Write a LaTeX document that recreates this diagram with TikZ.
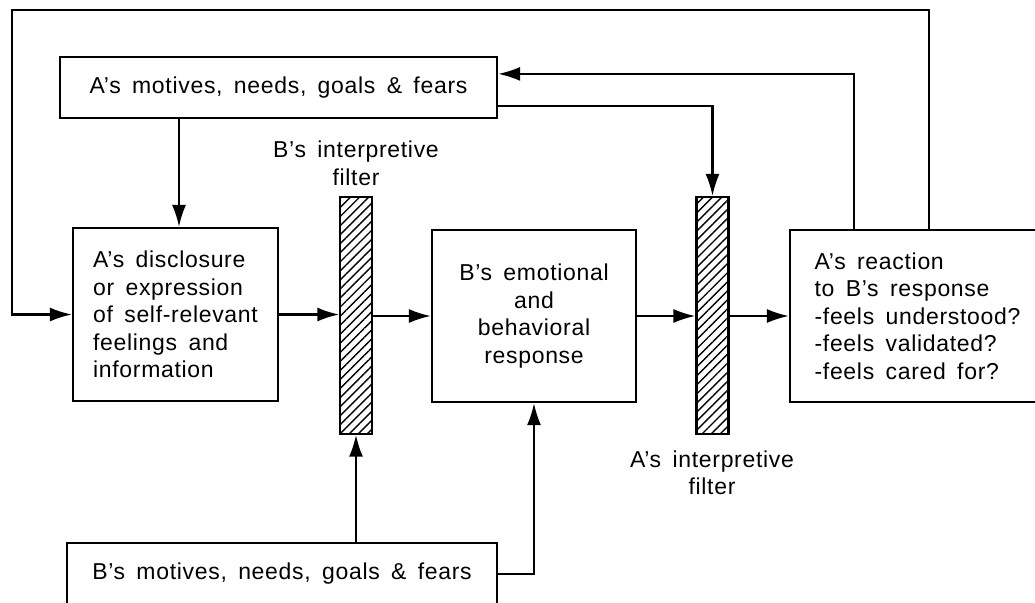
\documentclass[tikz,border=0pt]{standalone}
\usepackage{fontspec}
\setmainfont[WordSpace=1.6,LetterSpace=3]{Liberation Sans}
\usetikzlibrary{arrows.meta,patterns.meta,calc}
\begin{document}
\begin{tikzpicture}[x=0.5pt,y=-0.5pt,
  txt/.style={font=\fontsize{11.5}{13.75}\selectfont},
  box/.style={draw,line width=1.1pt,inner sep=0pt,txt},
  filterbar/.style={draw,line width=1.1pt,minimum width=16pt,minimum height=118.5pt,inner sep=0pt,
    pattern={Lines[angle=45,distance=3.2pt,line width=0.7pt]}},
  lbl/.style={align=center,inner sep=0pt,txt},
  arr/.style={line width=1.1pt,-{Latex[length=11pt,width=7pt]}}]
\useasboundingbox (0,0) rectangle (1035,602);
\clip (0,0) rectangle (1035,602);

\node[box,minimum width=218.5pt,minimum height=30.5pt] (amot) at (278.5,87.5) {A's motives, needs, goals \& fears};
\node[box,align=left,minimum width=102.5pt,minimum height=86.5pt] (disc) at (175.5,314.5) {A's disclosure\\or expression\\of self-relevant\\feelings and\\information};
\node[filterbar] (bfilt) at (356,315.5) {};
\node[lbl,anchor=south] (blbl) at (356,186) {B's interpretive\\filter};
\node[box,align=center,minimum width=102pt,minimum height=86pt] (bresp) at (534,316) {B's emotional\\and\\behavioral\\response};
\node[filterbar] (afilt) at (712.5,315.5) {};
\node[lbl,anchor=north] (albl) at (712,450) {A's interpretive\\filter};
\node[box,align=left,minimum width=127.5pt,minimum height=86pt] (react) at (917.5,316) {A's reaction\\to B's response\\-feels understood?\\-feels validated?\\-feels cared for?};
\node[box,minimum width=215pt,minimum height=31pt] (bmot) at (282,574) {B's motives, needs, goals \& fears};

\coordinate (d1) at ([xshift=1.75pt]disc.north);
\draw[arr] (amot.south -| d1) -- (d1);
\draw[arr] (disc.east) -- (disc.east -| bfilt.west);
\draw[arr] (bfilt.east |- bresp.west) -- (bresp.west);
\draw[arr] (bresp.east) -- (bresp.east -| afilt.west);
\draw[arr] (afilt.east |- react.west) -- (react.west);
\draw[arr] (bmot.north -| bfilt.south) -- (bfilt.south);
\draw[arr] (bmot.east) -| (bresp.south);
\draw[arr] ([yshift=6.5pt]amot.south east) -| (afilt.north);
\draw[arr] ([xshift=32.5pt]react.north west) |- ([yshift=-9pt]amot.north east);
\coordinate (tl) at (12,10);
\draw[arr] ([xshift=70pt]react.north west) |- (tl) |- (disc.west);
\end{tikzpicture}
\end{document}
